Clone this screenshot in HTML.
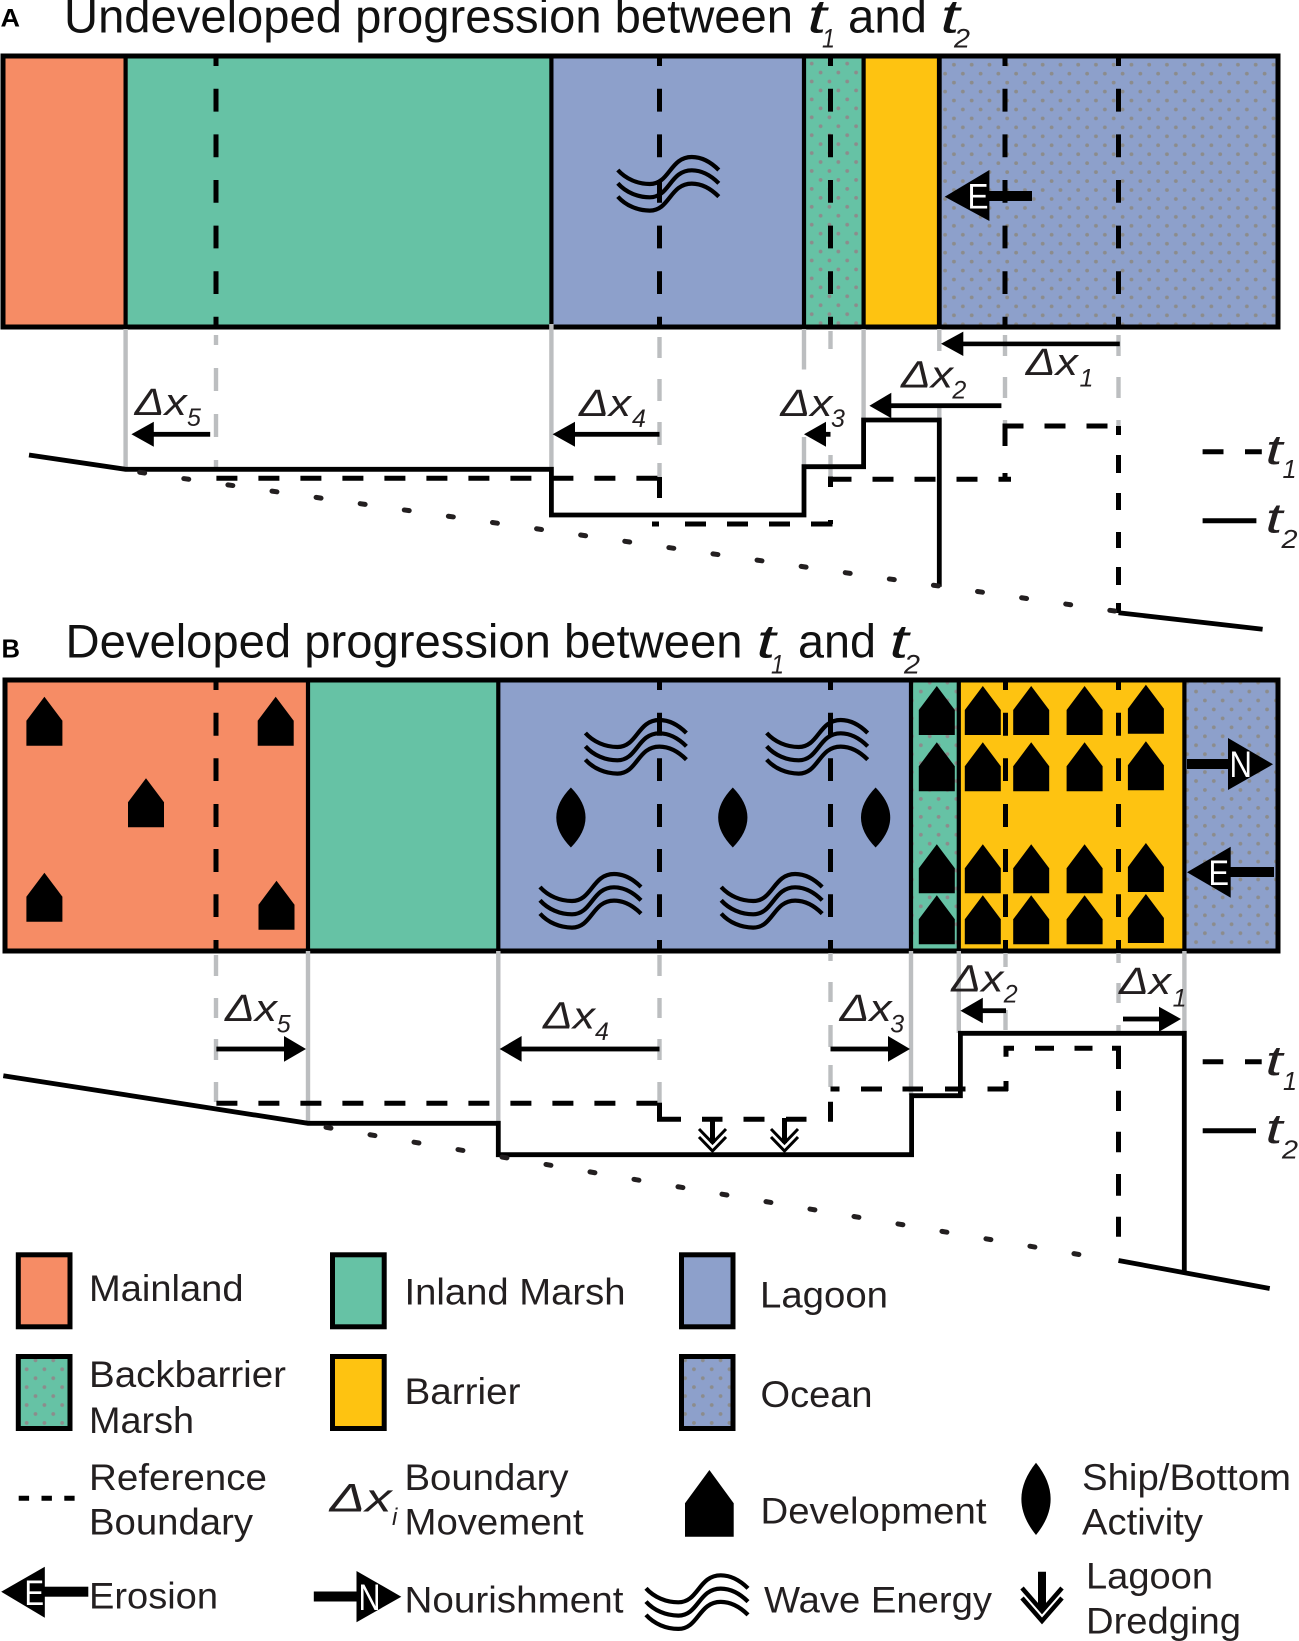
<!DOCTYPE html>
<html><head><meta charset="utf-8"><style>
html,body{margin:0;padding:0;background:#fff}
svg{display:block}
text{font-family:"Liberation Sans",sans-serif;fill:#231f20}
.l{font-size:37px}
.ti{font-size:47px;fill:#111}
.i{font-style:italic}
.d{font-size:38px;font-style:italic}
.s{font-size:25px;font-style:italic}
.w{fill:#fff;font-size:35px}
.g{stroke:#bcbec0;stroke-width:4.4;fill:none}
.k{stroke:#000;fill:none}
</style></head><body>
<svg width="1299" height="1641" viewBox="0 0 1299 1641" xmlns="http://www.w3.org/2000/svg">
<defs>
<pattern id="pa" patternUnits="userSpaceOnUse" x="1112.1" y="63.1" width="17.75" height="17.9"><rect width="17.75" height="17.9" fill="#8da0cb"/><circle cx="1.6" cy="1.6" r="1.9" fill="#8c8c8c"/><circle cx="10.5" cy="10.55" r="1.9" fill="#8c8c8c"/><circle cx="19.35" cy="1.6" r="1.9" fill="#8c8c8c"/><circle cx="1.6" cy="19.5" r="1.9" fill="#8c8c8c"/></pattern>
<pattern id="pb" patternUnits="userSpaceOnUse" x="809.8" y="61.7" width="17.75" height="17.9"><rect width="17.75" height="17.9" fill="#66c2a5"/><circle cx="1.9" cy="1.9" r="1.9" fill="#8c8c8c"/><circle cx="10.8" cy="10.85" r="1.9" fill="#8c8c8c"/></pattern>
<pattern id="pc" patternUnits="userSpaceOnUse" x="1203" y="680.7" width="17.75" height="17.9"><rect width="17.75" height="17.9" fill="#8da0cb"/><circle cx="1.9" cy="1.9" r="1.9" fill="#8c8c8c"/><circle cx="10.8" cy="10.85" r="1.9" fill="#8c8c8c"/></pattern>
<pattern id="pd" patternUnits="userSpaceOnUse" x="927.8" y="680.7" width="17.75" height="17.9"><rect width="17.75" height="17.9" fill="#66c2a5"/><circle cx="1.9" cy="1.9" r="1.9" fill="#8c8c8c"/><circle cx="10.8" cy="10.85" r="1.9" fill="#8c8c8c"/></pattern>
<pattern id="pe" patternUnits="userSpaceOnUse" x="33.6" y="1358.4" width="17.75" height="17.9"><rect width="17.75" height="17.9" fill="#66c2a5"/><circle cx="1.9" cy="1.9" r="1.9" fill="#8c8c8c"/><circle cx="10.8" cy="10.85" r="1.9" fill="#8c8c8c"/></pattern>
<pattern id="pf" patternUnits="userSpaceOnUse" x="700.9" y="1358.4" width="17.75" height="17.9"><rect width="17.75" height="17.9" fill="#8da0cb"/><circle cx="1.9" cy="1.9" r="1.9" fill="#8c8c8c"/><circle cx="10.8" cy="10.85" r="1.9" fill="#8c8c8c"/></pattern>
<path id="h" d="M0,0 L18,24 L18,49 L-18,49 L-18,24 Z" fill="#000"/>
<path id="ln" d="M0,-30 C19.5,-10 19.5,10 0,30 C-19.5,10 -19.5,-10 0,-30 Z" fill="#000"/>
<g id="wv" fill="none" stroke="#000" stroke-width="4.2">
<path d="M0,0 C8,9 20,14 32,14 C52,14 52,-13 74,-13 C85,-13 94,-7 101,0"/>
<path d="M0,13.3 C8,22.3 20,27.3 32,27.3 C52,27.3 52,0.3 74,0.3 C85,0.3 94,6.3 101,13.3"/>
<path d="M0,26.6 C8,35.6 20,40.6 32,40.6 C52,40.6 52,13.6 74,13.6 C85,13.6 94,19.6 101,26.6"/>
</g>
<g id="dr" fill="none" stroke="#000">
<line x1="0" y1="0" x2="0" y2="25" stroke-width="5"/>
<polyline points="-13.5,11 0,25 13.5,11" stroke-width="3"/>
<polyline points="-13.5,19 0,33 13.5,19" stroke-width="3"/>
</g>
</defs>

<!-- Titles -->
<text x="0.5" y="26.5" font-weight="bold" font-size="25" textLength="19.5" lengthAdjust="spacingAndGlyphs" style="fill:#000">A</text>
<text class="ti" x="64" y="32.3" textLength="729" lengthAdjust="spacingAndGlyphs">Undeveloped progression between</text>
<text class="ti i" x="807.5" y="32.3" textLength="19" lengthAdjust="spacingAndGlyphs">t</text>
<text class="i" x="822" y="47.7" font-size="27" textLength="13" lengthAdjust="spacingAndGlyphs">1</text>
<text class="ti" x="848" y="32.3" textLength="79" lengthAdjust="spacingAndGlyphs">and</text>
<text class="ti i" x="940.5" y="32.3" textLength="19" lengthAdjust="spacingAndGlyphs">t</text>
<text class="i" x="954" y="47.7" font-size="27" textLength="16" lengthAdjust="spacingAndGlyphs">2</text>

<text x="1.5" y="657.5" font-weight="bold" font-size="26" textLength="18.5" lengthAdjust="spacingAndGlyphs" style="fill:#000">B</text>
<text class="ti" x="65.5" y="657.7" textLength="677" lengthAdjust="spacingAndGlyphs">Developed progression between</text>
<text class="ti i" x="756.5" y="657.7" textLength="19" lengthAdjust="spacingAndGlyphs">t</text>
<text class="i" x="771" y="673.3" font-size="27" textLength="13" lengthAdjust="spacingAndGlyphs">1</text>
<text class="ti" x="798" y="657.7" textLength="78" lengthAdjust="spacingAndGlyphs">and</text>
<text class="ti i" x="889.5" y="657.7" textLength="19" lengthAdjust="spacingAndGlyphs">t</text>
<text class="i" x="904" y="673.3" font-size="27" textLength="16" lengthAdjust="spacingAndGlyphs">2</text>

<!-- Panel A -->
<rect x="3" y="56" width="122.6" height="271" fill="#f68c65"/>
<rect x="125.6" y="56" width="425.8" height="271" fill="#66c2a5"/>
<rect x="551.4" y="56" width="252.6" height="271" fill="#8da0cb"/>
<rect x="804" y="56" width="59.6" height="271" fill="url(#pb)"/>
<rect x="863.6" y="56" width="75.7" height="271" fill="#fec311"/>
<rect x="939.3" y="56" width="338.7" height="271" fill="url(#pa)"/>
<g class="k" stroke-width="4.2">
<line x1="125.6" y1="56" x2="125.6" y2="327"/><line x1="551.4" y1="56" x2="551.4" y2="327"/>
<line x1="804" y1="56" x2="804" y2="327"/><line x1="863.6" y1="56" x2="863.6" y2="327"/>
<line x1="939.3" y1="56" x2="939.3" y2="327" stroke-width="4.8"/>
</g>
<g stroke="#000" stroke-width="5" stroke-dasharray="22.8 22.8" stroke-dashoffset="14.8" fill="none">
<line x1="216" y1="58" x2="216" y2="325"/><line x1="659.5" y1="58" x2="659.5" y2="325"/>
<line x1="830.5" y1="58" x2="830.5" y2="325"/><line x1="1005" y1="58" x2="1005" y2="325"/>
<line x1="1118.5" y1="58" x2="1118.5" y2="325"/>
</g>
<rect x="3" y="56" width="1275" height="271" fill="none" stroke="#000" stroke-width="5"/>
<use href="#wv" x="617.8" y="170"/>
<!-- E arrow A -->
<polygon points="944.7,196.7 989.4,170 989.4,221" fill="#000"/><rect x="985" y="191" width="47" height="10" fill="#000"/>
<text class="w" x="967.5" y="208.5" textLength="21" lengthAdjust="spacingAndGlyphs" style="fill:#fff">E</text>

<!-- Panel A gray leaders -->
<g class="g">
<line x1="125.6" y1="329" x2="125.6" y2="467"/><line x1="551.4" y1="324" x2="551.4" y2="468"/>
<line x1="804" y1="329" x2="804" y2="369.5"/><line x1="804" y1="437" x2="804" y2="466"/>
<line x1="863.6" y1="329" x2="863.6" y2="418"/>
<line x1="939.3" y1="329" x2="939.3" y2="351"/><line x1="939.3" y1="408" x2="939.3" y2="418"/>
<path d="M216,335V345M216,368V391M216,414V437M216,460V467"/>
<path d="M659.5,337V358M659.5,379V401M659.5,422V445M659.5,463V477"/>
<path d="M830.5,331V349M830.5,455V477"/>
<path d="M1005,335V356M1005,377V398M1005,420V425"/>
<path d="M1118.5,335V356M1118.5,377V398M1118.5,420V426"/>
</g>

<!-- Panel A arrows -->
<g fill="#000" stroke="none">
<polygon points="941,343.8 963.3,331.6 963.3,356"/><rect x="960" y="341.6" width="159.8" height="4.6"/>
<polygon points="869.4,405.7 891.3,392.7 891.3,418.3"/><rect x="888" y="403.3" width="113.4" height="4.8"/>
<polygon points="804,434.3 826,421.7 826,446.7"/><rect x="824" y="431.9" width="6.5" height="4.8"/>
<polygon points="552.6,434.3 575,421.7 575,446.7"/><rect x="572" y="431.9" width="87.5" height="4.8"/>
<polygon points="131.4,434.3 153.8,421.7 153.8,446.7"/><rect x="151" y="431.9" width="59.2" height="4.8"/>
</g>

<!-- Panel A labels -->
<text class="d" x="134.7" y="415" textLength="52" lengthAdjust="spacingAndGlyphs">Δx</text><text class="s" x="187" y="426">5</text>
<text class="d" x="579" y="416" textLength="52" lengthAdjust="spacingAndGlyphs">Δx</text><text class="s" x="632" y="427">4</text>
<text class="d" x="780.4" y="416" textLength="52" lengthAdjust="spacingAndGlyphs">Δx</text><text class="s" x="831" y="427">3</text>
<text class="d" x="901" y="387.7" textLength="52" lengthAdjust="spacingAndGlyphs">Δx</text><text class="s" x="952.4" y="398.7">2</text>
<text class="d" x="1025.8" y="375" textLength="52" lengthAdjust="spacingAndGlyphs">Δx</text><text class="s" x="1079.5" y="386.7">1</text>

<!-- Panel A profile -->
<polyline class="k" stroke-width="4.8" points="29,455 125.6,469.3 551.4,469.3 551.4,515 804,515 804,466.7 863.6,466.7 863.6,420 939.3,420 939.3,586.7"/>
<line class="k" stroke-width="4.8" x1="1118.5" y1="612.7" x2="1262.6" y2="629.3"/>
<g class="k" stroke-width="5">
<line x1="216.4" y1="478.3" x2="659.5" y2="478.3" stroke-dasharray="21 21"/>
<path d="M659.5,477V498"/>
<path d="M652,524H659M685,524H706M727,524H748M769,524H790M811,524H832.5M830.5,524V520M830.5,487V476.5"/>
<line x1="830.5" y1="479.3" x2="1011" y2="479.3" stroke-dasharray="21 21"/>
<path d="M1005,479V473M1005,446V424"/>
<line x1="1002.5" y1="426" x2="1121" y2="426" stroke-dasharray="21 21"/>
<path d="M1118.5,426V435M1118.5,455V473M1118.5,493V510M1118.5,532V548M1118.5,567V585M1118.5,603V613"/>
</g>
<line x1="139.7" y1="472.3" x2="1116" y2="611.2" stroke="#231f20" stroke-width="5" stroke-linecap="round" stroke-dasharray="5 39.54"/>

<!-- t legend A -->
<g class="k" stroke-width="5"><path d="M1202.6,451.7H1223.5M1245,451.7H1261.8"/><path d="M1202.6,520.7H1256.4"/></g>
<text class="i" x="1265.5" y="464" font-size="42" textLength="17" lengthAdjust="spacingAndGlyphs">t</text><text class="i" x="1282.5" y="478" font-size="26" textLength="14" lengthAdjust="spacingAndGlyphs">1</text>
<text class="i" x="1265.5" y="532.7" font-size="42" textLength="17" lengthAdjust="spacingAndGlyphs">t</text><text class="i" x="1281.5" y="548" font-size="26" textLength="16" lengthAdjust="spacingAndGlyphs">2</text>

<!-- Panel B -->
<rect x="5" y="680" width="303" height="271" fill="#f68c65"/>
<rect x="308" y="680" width="190.3" height="271" fill="#66c2a5"/>
<rect x="498.3" y="680" width="412.7" height="271" fill="#8da0cb"/>
<rect x="911" y="680" width="47.8" height="271" fill="url(#pd)"/>
<rect x="958.8" y="680" width="225.6" height="271" fill="#fec311"/>
<rect x="1184.4" y="680" width="93.6" height="271" fill="url(#pc)"/>
<g class="k" stroke-width="4.2">
<line x1="308" y1="680" x2="308" y2="951"/><line x1="498.3" y1="680" x2="498.3" y2="951"/>
<line x1="911" y1="680" x2="911" y2="951"/><line x1="958.8" y1="680" x2="958.8" y2="951"/>
<line x1="1184.4" y1="680" x2="1184.4" y2="951"/>
</g>
<g stroke="#000" stroke-width="5" fill="none">
<path d="M216,680V690M216,712.7V735.7M216,758.3V781M216,804V827M216,849V872M216,894.3V917M216,940V950"/>
<path d="M659.5,680V690M659.5,712.7V735.7M659.5,758.3V781M659.5,804V827M659.5,849V872M659.5,894.3V917M659.5,940V950"/>
<path d="M830.5,680V690M830.5,712.7V735.7M830.5,758.3V781M830.5,804V827M830.5,849V872M830.5,894.3V917M830.5,940V950"/>
<path d="M1005.5,680V690M1005.5,712.7V735.7M1005.5,758.3V781M1005.5,804V827M1005.5,849V872M1005.5,894.3V917M1005.5,940V950"/>
<path d="M1118.5,680V690M1118.5,712.7V735.7M1118.5,758.3V781M1118.5,804V827M1118.5,849V872M1118.5,894.3V917M1118.5,940V950"/>
</g>
<rect x="5" y="680" width="1273" height="271" fill="none" stroke="#000" stroke-width="5"/>

<!-- houses B -->
<use href="#h" x="44.4" y="696.7"/><use href="#h" x="275.7" y="696.7"/><use href="#h" x="146" y="778.3"/><use href="#h" x="44.4" y="872.7"/><use href="#h" x="276.5" y="880.7"/>
<use href="#h" x="936.8" y="686"/><use href="#h" x="982.8" y="686"/><use href="#h" x="1031.2" y="686"/><use href="#h" x="1084.6" y="686"/><use href="#h" x="1145.9" y="684.7"/>
<use href="#h" x="936.8" y="742.3"/><use href="#h" x="982.8" y="742.3"/><use href="#h" x="1031.2" y="742.3"/><use href="#h" x="1084.6" y="742.3"/><use href="#h" x="1145.9" y="741.3"/>
<use href="#h" x="936.8" y="844.3"/><use href="#h" x="982.8" y="844.3"/><use href="#h" x="1031.2" y="844.3"/><use href="#h" x="1084.6" y="844.3"/><use href="#h" x="1145.9" y="843"/>
<use href="#h" x="936.8" y="895.3"/><use href="#h" x="982.8" y="895.3"/><use href="#h" x="1031.2" y="895.3"/><use href="#h" x="1084.6" y="895.3"/><use href="#h" x="1145.9" y="894"/>

<!-- waves, ships -->
<use href="#wv" x="585.4" y="733"/><use href="#wv" x="766.7" y="733"/><use href="#wv" x="540" y="887"/><use href="#wv" x="721.2" y="887"/>
<use href="#ln" x="570.9" y="817.5"/><use href="#ln" x="732.8" y="817.5"/><use href="#ln" x="875.6" y="817.5"/>

<!-- N and E arrows B -->
<rect x="1187" y="759" width="45" height="10" fill="#000"/><polygon points="1273,764.3 1228,738 1228,790" fill="#000"/>
<text class="w" x="1229.5" y="777" textLength="22.5" lengthAdjust="spacingAndGlyphs" style="fill:#fff;font-size:37px">N</text>
<polygon points="1187,872.3 1230.7,846.7 1230.7,897.7" fill="#000"/><rect x="1226" y="867" width="48" height="10" fill="#000"/>
<text class="w" x="1208.5" y="885" textLength="20.5" lengthAdjust="spacingAndGlyphs" style="fill:#fff">E</text>

<!-- Panel B gray leaders -->
<g class="g">
<path d="M216,955V976M216,998V1018M216,1039V1060M216,1082V1102"/>
<path d="M659.5,955V976M659.5,998V1018M659.5,1039V1060M659.5,1082V1103"/>
<path d="M830.5,953V961M830.5,982V1002M830.5,1025V1047M830.5,1065V1087"/>
<path d="M1005.5,953V967M1005.5,1010V1030"/>
<path d="M1118.5,953V963M1118.5,983V1003M1118.5,1025V1033"/>
<line x1="308" y1="951" x2="308" y2="1123"/><line x1="498.3" y1="951" x2="498.3" y2="1123"/>
<line x1="911" y1="951" x2="911" y2="1095"/><line x1="958.8" y1="951" x2="958.8" y2="1033"/>
<line x1="1184.4" y1="951" x2="1184.4" y2="1033"/>
</g>

<!-- Panel B arrows -->
<g fill="#000" stroke="none">
<polygon points="306,1049 284,1036 284,1061.7"/><rect x="216.4" y="1046.6" width="70" height="4.8"/>
<polygon points="499.6,1049 521.6,1036 521.6,1061.7"/><rect x="519" y="1046.6" width="140.5" height="4.8"/>
<polygon points="910,1049 888,1036 888,1061.7"/><rect x="830.5" y="1046.6" width="60" height="4.8"/>
<polygon points="960.4,1010.7 982.8,997.7 982.8,1023.3"/><rect x="980" y="1008.3" width="26" height="4.8"/>
<polygon points="1181,1019 1159,1006.7 1159,1031.7"/><rect x="1123" y="1016.6" width="38" height="4.8"/>
</g>

<!-- Panel B labels -->
<text class="d" x="225" y="1021" textLength="52" lengthAdjust="spacingAndGlyphs">Δx</text><text class="s" x="276.8" y="1032.7">5</text>
<text class="d" x="543" y="1028.3" textLength="52" lengthAdjust="spacingAndGlyphs">Δx</text><text class="s" x="595" y="1040">4</text>
<text class="d" x="839.6" y="1021" textLength="52" lengthAdjust="spacingAndGlyphs">Δx</text><text class="s" x="890.3" y="1032.7">3</text>
<text class="d" x="951.3" y="991.7" textLength="52" lengthAdjust="spacingAndGlyphs">Δx</text><text class="s" x="1003.7" y="1002.7">2</text>
<text class="d" x="1119" y="994" textLength="52" lengthAdjust="spacingAndGlyphs">Δx</text><text class="s" x="1172.6" y="1006.7">1</text>

<!-- Panel B profile -->
<polyline class="k" stroke-width="4.8" points="3.3,1075.7 308,1123.3 498.3,1123.3 498.3,1154.7 911.6,1154.7 911.6,1095.7 960.4,1095.7 960.4,1033.3 1184.3,1033.3 1184.3,1271"/>
<line class="k" stroke-width="4.8" x1="1118.5" y1="1260.5" x2="1269.7" y2="1288.5"/>
<g class="k" stroke-width="5">
<line x1="216.4" y1="1103.3" x2="661" y2="1103.3" stroke-dasharray="21 21"/>
<path d="M659.5,1102.7V1119.3"/>
<path d="M657,1119.3H681M702,1119.3H722.5M743.5,1119.3H764.5M786,1119.3H806.5M828,1119.3H833M830.5,1121.7V1101.7"/>
<path d="M830.5,1089H839.5M861,1089H882M902.5,1089H923M945,1089H965.5M987.5,1089H1008M1006,1091V1081M1006,1056.7V1046"/>
<path d="M1003.5,1048.3H1014M1035,1048.3H1054M1074.5,1048.3H1092.5M1112,1048.3H1121"/>
<path d="M1118.5,1048V1069M1118.5,1090.7V1111M1118.5,1131.7V1152.3M1118.5,1174V1195.7M1118.5,1216.7V1236.7"/>
</g>
<line x1="326" y1="1127.3" x2="1079" y2="1254.5" stroke="#231f20" stroke-width="5" stroke-linecap="round" stroke-dasharray="5 39.62"/>

<!-- dredge B -->
<use href="#dr" x="712.5" y="1118"/><use href="#dr" x="784.5" y="1118"/>

<!-- t legend B -->
<g class="k" stroke-width="5"><path d="M1202.7,1061.7H1223.3M1245,1061.7H1261.7"/><path d="M1202.7,1130.8H1256"/></g>
<text class="i" x="1265.5" y="1075" font-size="42" textLength="17" lengthAdjust="spacingAndGlyphs">t</text><text class="i" x="1283" y="1090" font-size="26" textLength="14" lengthAdjust="spacingAndGlyphs">1</text>
<text class="i" x="1265.5" y="1143" font-size="42" textLength="17" lengthAdjust="spacingAndGlyphs">t</text><text class="i" x="1282" y="1158.3" font-size="26" textLength="16" lengthAdjust="spacingAndGlyphs">2</text>

<!-- Legend boxes -->
<g stroke="#000" stroke-width="5">
<rect x="18.3" y="1254.8" width="51.7" height="72" fill="#f68c65"/>
<rect x="332.5" y="1254.8" width="51.7" height="72" fill="#66c2a5"/>
<rect x="681.5" y="1254.8" width="51.5" height="72" fill="#8da0cb"/>
<rect x="18.3" y="1356.5" width="51.7" height="72" fill="url(#pe)"/>
<rect x="332.5" y="1356.5" width="51.7" height="72" fill="#fec311"/>
<rect x="681.5" y="1356.5" width="51.5" height="72" fill="url(#pf)"/>
</g>

<!-- Legend labels -->
<text class="l" x="89" y="1301" textLength="154.5" lengthAdjust="spacingAndGlyphs">Mainland</text>
<text class="l" x="404.5" y="1304.3" textLength="221" lengthAdjust="spacingAndGlyphs">Inland Marsh</text>
<text class="l" x="760" y="1307.7" textLength="128" lengthAdjust="spacingAndGlyphs">Lagoon</text>
<text class="l" x="89" y="1387.2" textLength="197" lengthAdjust="spacingAndGlyphs">Backbarrier</text>
<text class="l" x="89" y="1433" textLength="105" lengthAdjust="spacingAndGlyphs">Marsh</text>
<text class="l" x="404.5" y="1404" textLength="116" lengthAdjust="spacingAndGlyphs">Barrier</text>
<text class="l" x="760.5" y="1406.8" textLength="112" lengthAdjust="spacingAndGlyphs">Ocean</text>
<text class="l" x="89" y="1490" textLength="178" lengthAdjust="spacingAndGlyphs">Reference</text>
<text class="l" x="89" y="1534.3" textLength="164" lengthAdjust="spacingAndGlyphs">Boundary</text>
<text class="l" x="404.5" y="1490" textLength="164" lengthAdjust="spacingAndGlyphs">Boundary</text>
<text class="l" x="404.5" y="1534.3" textLength="179" lengthAdjust="spacingAndGlyphs">Movement</text>
<text class="l" x="760.5" y="1523.5" textLength="226" lengthAdjust="spacingAndGlyphs">Development</text>
<text class="l" x="1082" y="1490" textLength="209" lengthAdjust="spacingAndGlyphs">Ship/Bottom</text>
<text class="l" x="1082" y="1534.3" textLength="121" lengthAdjust="spacingAndGlyphs">Activity</text>
<text class="l" x="89" y="1608.5" textLength="129" lengthAdjust="spacingAndGlyphs">Erosion</text>
<text class="l" x="404.5" y="1612.5" textLength="219" lengthAdjust="spacingAndGlyphs">Nourishment</text>
<text class="l" x="764" y="1612.3" textLength="228" lengthAdjust="spacingAndGlyphs">Wave Energy</text>
<text class="l" x="1086" y="1588.3" textLength="127" lengthAdjust="spacingAndGlyphs">Lagoon</text>
<text class="l" x="1086" y="1633.3" textLength="155" lengthAdjust="spacingAndGlyphs">Dredging</text>

<!-- Legend icons -->
<line class="k" stroke-width="5" x1="18.7" y1="1498.3" x2="74.6" y2="1498.3" stroke-dasharray="10.4 12.4"/>
<text class="i" x="329.6" y="1511.7" font-size="40" textLength="62" lengthAdjust="spacingAndGlyphs">Δx</text>
<text class="i" x="392" y="1525" font-size="24">i</text>

<polygon points="1.2,1591.7 44.8,1566.7 44.8,1617.7" fill="#000"/><rect x="40" y="1586.7" width="48.3" height="10" fill="#000"/>
<text class="w" x="24.5" y="1605" textLength="19.5" lengthAdjust="spacingAndGlyphs" style="fill:#fff">E</text>
<rect x="313.8" y="1591.5" width="46" height="10" fill="#000"/><polygon points="401.3,1596.7 356.5,1571 356.5,1622.3" fill="#000"/>
<text class="w" x="358.5" y="1610" textLength="22" lengthAdjust="spacingAndGlyphs" style="fill:#fff;font-size:37px">N</text>

<path d="M709.4,1470 L733.7,1503.3 L733.7,1536.7 L685,1536.7 L685,1503.3 Z" fill="#000"/>
<path d="M1036,1462.7 C1055.5,1487 1055.5,1511 1036,1535 C1016.5,1511 1016.5,1487 1036,1462.7 Z" fill="#000"/>
<g transform="translate(646,1588.3) scale(1.01,1)"><use href="#wv"/></g>
<g fill="none" stroke="#000">
<line x1="1042" y1="1571.7" x2="1042" y2="1608" stroke-width="8"/>
<polyline points="1022,1588 1042,1611 1062,1588" stroke-width="4.5"/>
<polyline points="1022,1598 1042,1621 1062,1598" stroke-width="4.5"/>
</g>
</svg>
</body></html>
